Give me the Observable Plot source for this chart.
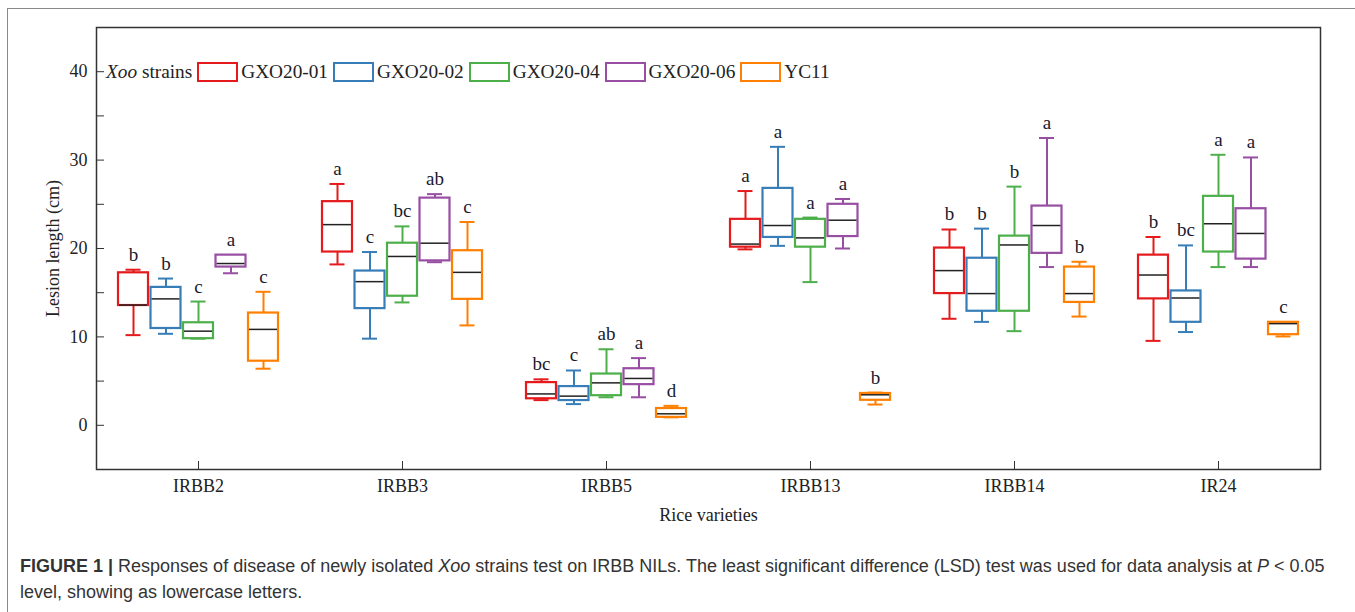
<!DOCTYPE html>
<html><head><meta charset="utf-8">
<script src="https://cdn.jsdelivr.net/npm/d3@7"></script>
<script src="https://cdn.jsdelivr.net/npm/@observablehq/plot@0.6"></script>
<style>
body{margin:0;background:#fff;}
#wrap{position:relative;width:1355px;height:612px;overflow:hidden;font-family:"Liberation Serif","Times New Roman",serif;background:#fff;}
#border{position:absolute;left:7px;top:8px;width:1400px;height:700px;border-left:1px solid #8a8a8a;border-top:1px solid #8a8a8a;}
#chart{position:absolute;left:0;top:0;}
#legend{position:absolute;left:106px;top:61px;height:22px;display:flex;align-items:center;font-size:19.3px;color:#222;white-space:nowrap;}
#legend .sw{width:37px;height:16px;border:2px solid;margin:0 3px 0 5px;box-sizing:content-box;}
#caption{position:absolute;left:20px;top:553px;font-family:"Liberation Sans",Arial,sans-serif;font-size:18px;line-height:26px;color:#333;white-space:nowrap;}
</style></head>
<body>
<div id="wrap">
<div id="border"></div>
<div id="chart"></div>
<div id="legend"></div>
<div id="caption"><b>FIGURE 1 |</b> Responses of disease of newly isolated <i>Xoo</i> strains test on IRBB NILs. The least significant difference (LSD) test was used for data analysis at <i>P</i> &lt; 0.05<br>level, showing as lowercase letters.</div>
</div>
<script>
// ---- data (rows: varieties; columns: strains) ----
const varieties = ["IRBB2", "IRBB3", "IRBB5", "IRBB13", "IRBB14", "IR24"];
const strains = ["GXO20-01", "GXO20-02", "GXO20-04", "GXO20-06", "YC11"];
const colors = ["#e41a1c", "#377eb8", "#4daf4a", "#984ea3", "#ff7f00"];
const yTicks = [0, 10, 20, 30, 40];
const yMinorTicks = [0, 5, 10, 15, 20, 25, 30, 35, 40];

const whiskerLow = [
  [10.2, 10.35, 9.8, 17.2, 6.4],
  [18.2, 9.8, 13.9, 18.45, 11.3],
  [2.85, 2.4, 3.17, 3.17, 0.9],
  [19.9, 20.3, 16.2, 20.0, 2.35],
  [12.05, 11.7, 10.65, 17.9, 12.3],
  [9.55, 10.55, 17.9, 17.9, 10.05]
];
const q1 = [
  [13.55, 10.95, 9.8, 17.9, 7.25],
  [19.6, 13.2, 14.6, 18.6, 14.25],
  [3.0, 2.8, 3.35, 4.6, 0.9],
  [20.15, 21.25, 20.15, 21.35, 2.83],
  [14.9, 12.9, 12.9, 19.45, 13.9],
  [14.3, 11.65, 19.6, 18.8, 10.25]
];
const median = [
  [13.6, 14.3, 10.65, 18.3, 10.85],
  [22.7, 16.25, 19.1, 20.6, 17.3],
  [3.55, 3.3, 4.8, 5.3, 1.3],
  [20.5, 22.6, 21.2, 23.2, 3.45],
  [17.5, 14.9, 20.4, 22.6, 14.9],
  [17.0, 14.4, 22.8, 21.7, 11.5]
];
const q3 = [
  [17.25, 15.6, 11.6, 19.25, 12.7],
  [25.3, 17.45, 20.6, 25.7, 19.75],
  [4.83, 4.38, 5.8, 6.4, 1.9],
  [23.3, 26.8, 23.3, 25.0, 3.6],
  [20.05, 18.9, 21.4, 24.8, 17.9],
  [19.25, 15.2, 25.9, 24.5, 11.65]
];
const whiskerHigh = [
  [17.6, 16.6, 14.0, 19.25, 15.1],
  [27.3, 19.6, 22.5, 26.15, 23.0],
  [5.2, 6.2, 8.6, 7.6, 2.2],
  [26.5, 31.5, 23.5, 25.6, 3.7],
  [22.15, 22.25, 27.0, 32.5, 18.5],
  [21.3, 20.35, 30.6, 30.3, 11.65]
];
const letters = [
  ["b", "b", "c", "a", "c"],
  ["a", "c", "bc", "ab", "c"],
  ["bc", "c", "ab", "a", "d"],
  ["a", "a", "a", "a", "b"],
  ["b", "b", "b", "a", "b"],
  ["b", "bc", "a", "a", "c"]
];

// ---- layout / style ----
const W = 1355, H = 540, mL = 96, mR = 35, mT = 27, mB = 71;
const bw = (W - mL - mR) / varieties.length;
const step = 32.5, boxW = 30, capW = 15;

const marks = [];
strains.forEach((s, j) => {
  const off = (j - (strains.length - 1) / 2) * step;
  const rows = varieties.map((v, i) => ({
    v, lo: whiskerLow[i][j], q1: q1[i][j], med: median[i][j], q3: q3[i][j], hi: whiskerHigh[i][j], letter: letters[i][j]
  }));
  const boxIn = {insetLeft: bw / 2 + off - boxW / 2, insetRight: bw / 2 - off - boxW / 2};
  const medIn = {insetLeft: bw / 2 + off - boxW / 2 + 1, insetRight: bw / 2 - off - boxW / 2 + 1};
  const capIn = {insetLeft: bw / 2 + off - capW / 2, insetRight: bw / 2 - off - capW / 2};
  const c = colors[j];
  marks.push(
    Plot.ruleX(rows, {x: "v", y1: "lo", y2: "q1", dx: off, stroke: c, strokeWidth: 2}),
    Plot.ruleX(rows, {x: "v", y1: "q3", y2: "hi", dx: off, stroke: c, strokeWidth: 2}),
    Plot.tickY(rows, {x: "v", y: "lo", stroke: c, strokeWidth: 2, ...capIn}),
    Plot.tickY(rows, {x: "v", y: "hi", stroke: c, strokeWidth: 2, ...capIn}),
    Plot.barY(rows, {x: "v", y1: "q1", y2: "q3", fill: "white", stroke: c, strokeWidth: 2.2, ...boxIn}),
    Plot.tickY(rows, {x: "v", y: "med", stroke: "#222", strokeWidth: 1.5, ...medIn}),
    Plot.text(rows, {x: "v", y: "hi", text: "letter", dx: off, dy: -9, lineAnchor: "bottom", fontSize: 19, fill: "#1a1a2e"})
  );
});

const chart = Plot.plot({
  width: W, height: H,
  marginLeft: mL, marginRight: mR, marginTop: mT, marginBottom: mB,
  style: {fontFamily: '"Liberation Serif", "Times New Roman", serif', fontSize: "18px", color: "#222", background: "none"},
  x: {type: "band", domain: varieties, padding: 0},
  y: {domain: [-5, 45]},
  marks: [
    ...marks,
    Plot.frame({stroke: "#333", strokeWidth: 1.5}),
    Plot.axisY({ticks: yTicks, tickSize: 0, tickPadding: 9, fontSize: 18, label: "Lesion length (cm)", labelAnchor: "center", labelOffset: 50, labelArrow: "none"}),
    Plot.axisY({ticks: yMinorTicks, tickSize: 8, dx: 8, text: null, label: null, stroke: "#333"}),
    Plot.axisX({tickSize: 0, tickPadding: 10, fontSize: 18, label: "Rice varieties", labelAnchor: "center", labelOffset: 51, labelArrow: "none"}),
    Plot.axisX({tickSize: 8, dy: -8, text: null, label: null, stroke: "#333"})
  ]
});
document.getElementById("chart").appendChild(chart);

// legend (HTML)
const lg = document.getElementById("legend");
lg.innerHTML = '<span><i>Xoo</i> strains</span>' + strains.map((s, j) =>
  `<span class="sw" style="border-color:${colors[j]}"></span><span>${s}</span>`).join("");
</script>
</body></html>
